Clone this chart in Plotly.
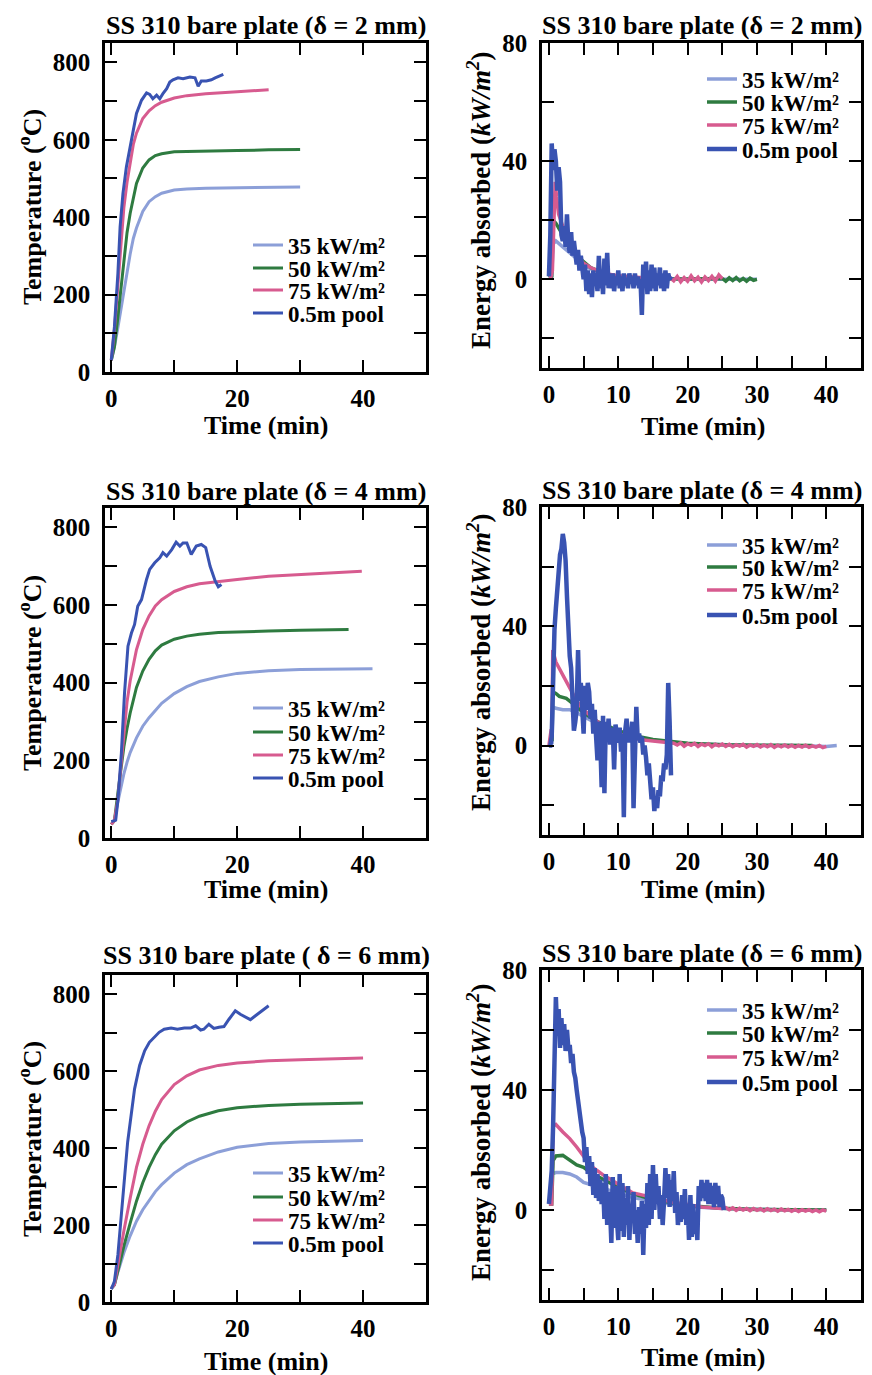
import plotly.graph_objects as go

# The page body has an 8 px margin, so the figure is sized and positioned to fill the
# 872 x 1375 window exactly: all layout pixel positions below are window pixels.
WIN_W, WIN_H = 872, 1375
OFF = 8
W, H = WIN_W - OFF, WIN_H - OFF
FONT = "Liberation Serif"

C35, C50, C75, CPOOL = "#8c9fd8", "#2e7b40", "#d75b8f", "#3953b2"
SERIES_NAMES = ["35 kW/m²", "50 kW/m²", "75 kW/m²", "0.5m pool"]
SERIES_COLORS = [C35, C50, C75, CPOOL]

# ---------------- Temperature, delta = 2 mm ----------------
t2_35 = [0, 0.5, 1, 1.5, 2, 2.5, 3, 3.5, 4, 5, 6, 7, 8, 10, 12, 15, 20, 25, 30]
T2_35 = [30, 65, 110, 160, 215, 265, 305, 345, 372, 415, 440, 453, 462, 470, 473, 475, 476, 477, 478]
t2_50 = [0, 0.5, 1, 1.5, 2, 2.5, 3, 3.5, 4, 5, 6, 7, 8, 10, 12, 15, 20, 25, 30]
T2_50 = [30, 65, 135, 215, 295, 360, 410, 452, 487, 527, 548, 559, 564, 569, 570, 571, 572, 574, 575]
t2_75 = [0, 0.5, 1, 1.5, 2, 2.5, 3, 3.5, 4, 5, 6, 7, 8, 10, 12, 15, 20, 25]
T2_75 = [30, 110, 215, 325, 425, 490, 545, 588, 617, 655, 675, 688, 697, 708, 714, 719, 724, 729]
t2_pool = [0, 0.5, 1.05, 1.4, 1.85, 2.4, 3.2, 4.0, 4.8, 5.6, 6.1, 6.6, 7.2, 7.7, 8.2, 8.8, 9.3, 9.8,
           10.6, 11.4, 12.5, 13.3, 13.8, 14.3, 15.1, 15.9, 16.5, 17.2, 17.8]
T2_pool = [31, 117, 255, 375, 461, 530, 599, 668, 702, 721, 717, 706, 715, 706, 719, 732, 749, 755,
           760, 758, 762, 760, 738, 752, 752, 755, 760, 766, 769]

# ---------------- Temperature, delta = 4 mm ----------------
t4_35 = [0, 0.5, 1, 1.5, 2, 2.5, 3, 4, 5, 6, 7, 8, 10, 12, 14, 17, 20, 25, 30, 35, 41.5]
T4_35 = [35, 45, 90, 130, 165, 195, 220, 258, 288, 310, 330, 347, 372, 390, 403, 415, 424, 431, 434, 435, 436]
t4_50 = [0, 0.5, 1, 1.5, 2, 2.5, 3, 4, 5, 6, 7, 8, 10, 12, 14, 17, 20, 25, 30, 37.7]
T4_50 = [35, 45, 110, 175, 235, 282, 322, 388, 430, 460, 482, 497, 512, 520, 525, 529, 531, 533, 535, 537]
t4_75 = [0, 0.5, 1, 1.5, 2, 2.5, 3, 4, 5, 6, 7, 8, 10, 12, 14, 17, 20, 25, 30, 35, 39.8]
T4_75 = [35, 45, 95, 180, 275, 350, 405, 485, 537, 572, 598, 614, 635, 647, 655, 661, 666, 674, 679, 684, 687]
t4_pool = [0, 0.7, 1.06, 1.6, 2.1, 2.65, 3.2, 3.7, 4.2, 4.8, 5.6, 6.1, 6.9, 7.7, 8.2, 8.8, 9.6, 10.3,
           10.9, 11.4, 12.0, 12.7, 13.5, 14.3, 15.0, 15.7, 16.5, 17.0, 17.5]
T4_pool = [42, 46, 98, 218, 373, 494, 528, 550, 597, 614, 666, 692, 709, 722, 735, 726, 743, 762,
           752, 760, 760, 730, 752, 756, 748, 700, 662, 647, 653]

# ---------------- Temperature, delta = 6 mm ----------------
t6_35 = [0, 0.5, 1, 1.5, 2, 3, 4, 5, 6, 7, 8, 10, 12, 14, 17, 20, 25, 30, 35, 40]
T6_35 = [35, 45, 75, 102, 128, 172, 210, 240, 265, 287, 305, 335, 357, 372, 390, 402, 412, 416, 418, 420]
t6_50 = [0, 0.5, 1, 1.5, 2, 3, 4, 5, 6, 7, 8, 10, 12, 14, 17, 20, 25, 30, 35, 40]
T6_50 = [35, 45, 78, 112, 145, 205, 262, 310, 350, 383, 410, 445, 468, 483, 497, 505, 511, 514, 516, 517]
t6_75 = [0, 0.5, 1, 1.5, 2, 3, 4, 5, 6, 7, 8, 10, 12, 14, 17, 20, 25, 30, 35, 40]
T6_75 = [35, 45, 92, 140, 185, 270, 350, 410, 458, 496, 526, 565, 588, 603, 615, 621, 627, 630, 632, 634]
t6_pool = [0, 0.5, 1.05, 1.6, 2.1, 2.6, 3.2, 3.7, 4.5, 5.3, 6.05, 6.8, 7.6, 8.4, 9.5, 10.5, 11.6,
           12.6, 13.4, 14.2, 14.7, 15.5, 16.3, 17.1, 17.9, 18.7, 19.7, 20.5, 21.3, 22.1, 22.9, 23.9, 25.0]
T6_pool = [33, 54, 123, 218, 322, 416, 494, 554, 615, 653, 675, 688, 701, 709, 712, 709, 712,
           712, 718, 707, 709, 722, 711, 714, 716, 735, 757, 748, 740, 734, 744, 757, 770]

# sampling times of the pool-fire energy records (min)
e_t_short = [0, 0.2, 0.4, 0.6, 0.8, 1, 1.2, 1.4, 1.6, 1.8, 2, 2.2, 2.4, 2.6, 2.8, 3, 3.2, 3.4, 3.6, 3.8,
             4, 4.2, 4.4, 4.6, 4.8, 5, 5.2, 5.4, 5.6, 5.8, 6, 6.2, 6.4, 6.6, 6.8, 7, 7.2, 7.4, 7.6, 7.8,
             8, 8.2, 8.4, 8.6, 8.8, 9, 9.2, 9.4, 9.6, 9.8, 10, 10.2, 10.4, 10.6, 10.8, 11, 11.2, 11.4,
             11.6, 11.8, 12, 12.2, 12.4, 12.6, 12.8, 13, 13.2, 13.4, 13.6, 13.8, 14, 14.2, 14.4, 14.6,
             14.8, 15, 15.2, 15.4, 15.6, 15.8, 16, 16.2, 16.4, 16.6, 16.8, 17, 17.2, 17.4, 17.6]
e_t_long = [0, 0.2, 0.4, 0.6, 0.8, 1, 1.2, 1.4, 1.6, 1.8, 2, 2.2, 2.4, 2.6, 2.8, 3, 3.2, 3.4, 3.6, 3.8,
            4, 4.2, 4.4, 4.6, 4.8, 5, 5.2, 5.4, 5.6, 5.8, 6, 6.2, 6.4, 6.6, 6.8, 7, 7.2, 7.4, 7.6, 7.8,
            8, 8.2, 8.4, 8.6, 8.8, 9, 9.2, 9.4, 9.6, 9.8, 10, 10.2, 10.4, 10.6, 10.8, 11, 11.2, 11.4,
            11.6, 11.8, 12, 12.2, 12.4, 12.6, 12.8, 13, 13.2, 13.4, 13.6, 13.8, 14, 14.2, 14.4, 14.6,
            14.8, 15, 15.2, 15.4, 15.6, 15.8, 16, 16.2, 16.4, 16.6, 16.8, 17, 17.2, 17.4, 17.6, 17.8,
            18, 18.2, 18.4, 18.6, 18.8, 19, 19.2, 19.4, 19.6, 19.8, 20, 20.2, 20.4, 20.6, 20.8, 21,
            21.2, 21.4, 21.6, 21.8, 22, 22.2, 22.4, 22.6, 22.8, 23, 23.2, 23.4, 23.6, 23.8, 24, 24.2,
            24.4, 24.6, 24.8, 25, 25.2]

# ---------------- Energy absorbed, delta = 2 mm ----------------
e2_t35 = [0, 0.4, 0.6, 1, 2, 3, 4, 5, 6, 8, 10, 12, 15, 20, 25, 30]
e2_E35 = [0.5, 1, 12, 13, 11, 9, 7, 5, 3.5, 2, 1, 0.5, 0.3, 0, 0, 0]
e2_t50 = [0, 0.4, 0.6, 1, 1.5, 2, 3, 4, 5, 6, 8, 10, 12, 15, 20, 25, 25.5, 26, 26.5, 27, 27.5,
          28, 28.5, 29, 29.5, 30]
e2_E50 = [0.5, 1, 20, 19, 17, 15, 11, 8, 6, 4, 2, 1, 0.5, 0.2, 0.1, 0.3, -0.6, 0.5, -0.4, 0.6, -0.5,
          0.3, -0.6, 0.4, -0.3, 0]
e2_t75 = [0, 0.3, 0.5, 0.7, 0.9, 1.1, 1.4, 1.7, 2, 2.5, 3, 4, 5, 6, 7, 8, 10, 12, 14, 16, 17.5,
          18, 18.5, 19, 19.5, 20, 20.5, 21, 21.5, 22, 22.5, 23, 23.5, 24, 24.5, 25]
e2_E75 = [1, 1, 3, 15, 33, 28, 22, 20, 18, 14, 11, 8, 5.5, 4, 3, 2, 1.2, 0.8, 0.5, 0.3, 0.5,
          -0.5, 1, -0.8, 0.6, -0.6, 1.2, -0.5, 0.7, -0.9, 0.8, -0.4, 1, -0.6, 1.5, 0.2]
e2_Epool = [1, 15, 46, 37, 44, 40, 30, 38, 33, 15,
            13, 18, 11, 22, 12, 9, 16, 8, 13, 7,
            5, 10, 3, 8, 2, 0, 5, -4, 3, -5,
            2, -6, 3, -2, 2, -4, 8, -3, 2, -5,
            7, -2, 9, -3, 2, -3, 2, -4, 1, -2,
            3, -3, 1, -4, 2, -2, 0, -3, 2, -1,
            1, -3, 2, -2, 1, -3, 0, -12, 5, -2,
            6, -5, 3, -4, 5, -3, 4, -4, 2, -2,
            4, -3, 2, -4, 3, -3, 2, 0, 1]

# ---------------- Energy absorbed, delta = 4 mm ----------------
e4_t35 = [0, 0.45, 0.55, 1, 2, 3, 4, 6, 8, 10, 12, 15, 20, 25, 30, 35, 40, 41.5]
e4_E35 = [1, 1, 13, 12.5, 12, 12, 11, 8.5, 6.5, 4.5, 3, 1.8, 0.6, 0.2, 0, 0, -0.3, 0]
e4_t50 = [0, 0.45, 0.55, 1, 1.5, 2.5, 3.5, 5, 7, 10, 12, 15, 20, 25, 30, 35, 38]
e4_E50 = [2, 2, 18, 17.5, 16.5, 15.8, 14, 11, 8, 5, 3.5, 2, 0.8, 0.3, 0.1, 0, 0]
e4_t75 = [0, 0.3, 0.45, 0.55, 1, 2, 3, 4, 5, 6, 7, 8, 10, 12, 13, 15, 17,
          18, 18.5, 19, 19.5, 20, 20.5, 21, 21.5, 22, 22.5, 23, 23.5, 24, 24.5, 25, 25.5, 26, 26.5,
          27, 27.5, 28, 28.5, 29, 29.5, 30, 30.5, 31, 31.5, 32, 32.5, 33, 33.5, 34, 34.5, 35, 35.5,
          36, 36.5, 37, 37.5, 38, 38.5, 39, 39.5, 40]
e4_E75 = [0, 5, 5, 32, 28, 23.5, 19, 15, 12, 10, 8, 6, 4, 2.5, 2, 1.5, 1,
          0.8, 0.2, 0.9, -0.2, 0.6, 0.1, 0.7, -0.3, 0.5, 0.0, 0.6, -0.4, 0.4, -0.1, 0.5, -0.3, 0.4, -0.4,
          0.3, -0.2, 0.4, -0.5, 0.2, -0.3, 0.3, -0.5, 0.2, -0.4, 0.3, -0.6, 0.1, -0.4, 0.2, -0.5, 0.1, -0.6,
          0.0, -0.5, 0.1, -0.6, -0.1, -0.5, 0.0, -0.7, -0.3]
e4_Epool = [0, 0, 3, 31, 39, 46, 53, 60, 64, 66,
            71, 68, 62, 50, 37, 30, 26, 14, 5, 8,
            12, 32, 15, 21, 10, 4, 20, 12, 21, 18,
            9, 14, 4, 12, 3, -5, 8, 2, -14, 10,
            -16, 8, 2, 9, 1, 1, 6, -8, 7, 2,
            1, 6, -2, 4, -24, 5, 9, 1, 6, 2,
            8, -21, 5, 13, 2, 4, 1, 3, -3, 0,
            -4, -10, -6, -12, -18, -14, -22, -17, -21, -15,
            -17, -10, -12, -6, -8, -3, 21, 8, -10]

# ---------------- Energy absorbed, delta = 6 mm ----------------
e6_t35 = [0, 0.3, 0.4, 1, 2, 3, 4, 5, 6, 8, 10, 12, 15, 20, 25, 30, 35, 40]
e6_E35 = [2, 2, 12, 12.5, 12.5, 12, 11, 9.2, 8.5, 7, 5.5, 4.2, 2.8, 1.2, 0.5, 0.2, 0, 0]
e6_t50 = [0, 0.4, 0.6, 1, 2, 3, 4, 5, 6, 8, 10, 12, 15, 20, 25, 30, 35, 40]
e6_E50 = [2, 2, 16.5, 18, 18.2, 16.5, 15, 14.2, 12.5, 10, 7.5, 5.5, 3.5, 1.5, 0.6, 0.2, 0, 0]
e6_t75 = [0, 0.4, 0.6, 1, 2, 3, 4, 5, 6, 8, 10, 12, 14, 16, 18, 20, 22, 25,
          25.5, 26, 26.5, 27, 27.5, 28, 28.5, 29, 29.5, 30, 30.5, 31, 31.5, 32, 32.5, 33, 33.5, 34,
          34.5, 35, 35.5, 36, 36.5, 37, 37.5, 38, 38.5, 39, 39.5, 40]
e6_E75 = [2, 2, 28, 28.5, 26, 23.8, 21, 18, 14.8, 11.4, 8.6, 5.8, 4.7, 3.5, 2.5, 1.8, 1, 0.5,
          0.8, 0.1, 0.7, -0.1, 0.6, 0.0, 0.5, -0.2, 0.5, -0.1, 0.4, -0.3, 0.4, -0.2, 0.3, -0.4, 0.3, -0.3,
          0.2, -0.4, 0.2, -0.5, 0.1, -0.4, 0.1, -0.5, 0.0, -0.6, 0.0, -0.4]
e6_Epool = [2, 8, 13, 28, 50, 71, 58, 67, 54, 64,
            55, 62, 53, 60, 54, 55, 49, 52, 46, 44,
            40, 36, 33, 30, 26, 24, 16, 21, 12, 18,
            8, 16, 5, 14, 4, 12, 3, 10, 2, 9,
            -3, 12, -5, 6, 1, -11, 11, -6, 8, -3,
            -10, 12, -7, 9, -9, 4, -5, 8, -10, 2,
            -4, 6, -8, 0, -11, 1, -8, 3, -15, 2,
            -6, 9, -5, 12, -3, 15, 0, 12, 2, 8,
            -3, 5, -5, 3, 14, 4, 12, 1, 10, 3,
            13, -1, 6, -5, 2, -4, 5, -3, 7, -5,
            2, -10, 5, -9, 2, -8, -2, -10, 8, 3,
            10, 4, 9, 3, 10, 2, 9, 2, 8, 1,
            9, 2, 8, 1, 5, 4, 0]

# ---------------- tick labels ----------------
temp_xticks = [0, 10, 20, 30, 40]
temp_xlabels = ["0", "", "20", "", "40"]
temp_yticks = [0, 100, 200, 300, 400, 500, 600, 700, 800]
temp_ylabels = ["0", "", "200", "", "400", "", "600", "", "800"]
en_xticks = [0, 5, 10, 15, 20, 25, 30, 35, 40]
en_xlabels = ["0", "", "10", "", "20", "", "30", "", "40"]
en_yticks = [-20, 0, 20, 40, 60, 80]
en_ylabels = ["", "0", "", "40", "", "80"]

titles = ["SS 310 bare plate (δ = 2 mm)", "SS 310 bare plate (δ = 2 mm)",
          "SS 310 bare plate (δ = 4 mm)", "SS 310 bare plate (δ = 4 mm)",
          "SS 310 bare plate ( δ = 6 mm)", "SS 310 bare plate (δ = 6 mm)"]

panel_data = {
    1: [(t2_35, T2_35), (t2_50, T2_50), (t2_75, T2_75), (t2_pool, T2_pool)],
    2: [(e2_t35, e2_E35), (e2_t50, e2_E50), (e2_t75, e2_E75), (e_t_short, e2_Epool)],
    3: [(t4_35, T4_35), (t4_50, T4_50), (t4_75, T4_75), (t4_pool, T4_pool)],
    4: [(e4_t35, e4_E35), (e4_t50, e4_E50), (e4_t75, e4_E75), (e_t_short, e4_Epool)],
    5: [(t6_35, T6_35), (t6_50, T6_50), (t6_75, T6_75), (t6_pool, T6_pool)],
    6: [(e6_t35, e6_E35), (e6_t50, e6_E50), (e6_t75, e6_E75), (e_t_long, e6_Epool)],
}

# ---------------- layout geometry (window pixels) ----------------
boxes = {1: (105, 426, 43, 372), 2: (542, 861, 43, 368),
         3: (105, 426, 508, 838), 4: (542, 861, 507, 835),
         5: (105, 426, 975, 1302), 6: (542, 861, 970, 1300)}
title_pos = {1: (266, 25), 2: (702, 25), 3: (266, 492), 4: (702, 490), 5: (266, 955), 6: (702, 953)}
xtitle_pos = {1: (266, 425), 2: (703, 426), 3: (266, 889), 4: (703, 889), 5: (266, 1361), 6: (703, 1357)}
ytitle_pos = {1: (30, 207), 2: (479, 200), 3: (30, 673), 4: (479, 662), 5: (30, 1139), 6: (479, 1132)}
legend_pos = {1: (255, [245, 268, 290, 313]), 2: (709, [79, 102, 125, 149]),
              3: (255, [708, 732, 755, 778]), 4: (709, [545, 567, 590, 615]),
              5: (255, [1173, 1197, 1220, 1243]), 6: (709, [1010, 1033, 1057, 1082])}
LEG_OFFSET = 7


def fx(p):
    return (p - OFF) / W


def fy(p):
    return 1 - (p - OFF) / H


fig = go.Figure()
layout = dict(width=W, height=H, margin=dict(l=0, r=0, t=0, b=0, pad=0), autosize=False,
              paper_bgcolor="white", plot_bgcolor="white", showlegend=True)
annotations = []
leg_k = 0

for n in range(1, 7):
    is_temp = n % 2 == 1
    xa = "x" if n == 1 else f"x{n}"
    ya = "y" if n == 1 else f"y{n}"
    for i, (tt, vv) in enumerate(panel_data[n]):
        leg_k += 1
        lname = "legend" if leg_k == 1 else f"legend{leg_k}"
        if is_temp:
            lw = 3
        else:
            lw = 4.5 if i == 3 else 3.5
        fig.add_trace(go.Scatter(
            x=tt, y=vv, mode="lines", name=SERIES_NAMES[i],
            line=dict(color=SERIES_COLORS[i], width=lw),
            xaxis=xa, yaxis=ya, legend=lname, hoverinfo="skip"))
        lx, rows = legend_pos[n]
        layout[lname] = dict(x=fx(lx - LEG_OFFSET), y=fy(rows[i]), xanchor="left", yanchor="middle",
                             bgcolor="rgba(0,0,0,0)", borderwidth=0,
                             font=dict(family=FONT, size=23, color="black", weight="bold"))
    x0, x1, y0, y1 = boxes[n]
    common = dict(showline=True, linecolor="black", linewidth=2.5, mirror="allticks",
                  ticks="inside", ticklen=12, tickwidth=2, tickcolor="black",
                  showgrid=False, zeroline=False, fixedrange=True, automargin=False,
                  tickfont=dict(family=FONT, size=25, color="black", weight="bold"))
    if is_temp:
        xax = dict(common, range=[-1, 50], tickmode="array", tickvals=temp_xticks, ticktext=temp_xlabels)
        yax = dict(common, range=[0, 850], tickmode="array", tickvals=temp_yticks, ticktext=temp_ylabels)
    else:
        xax = dict(common, range=[-1, 45], tickmode="array", tickvals=en_xticks, ticktext=en_xlabels)
        yax = dict(common, range=[-30, 80], tickmode="array", tickvals=en_yticks, ticktext=en_ylabels)
    xax.update(domain=[fx(x0), fx(x1)], anchor=ya, ticklabelstandoff=2)
    yax.update(domain=[fy(y1), fy(y0)], anchor=xa, ticklabelstandoff=7)
    layout["xaxis" if n == 1 else f"xaxis{n}"] = xax
    layout["yaxis" if n == 1 else f"yaxis{n}"] = yax

    tfont = dict(family=FONT, size=26, color="black", weight="bold")
    tx, ty = title_pos[n]
    annotations.append(dict(text=titles[n - 1], x=fx(tx), y=fy(ty), xref="paper", yref="paper",
                            xanchor="center", yanchor="middle", showarrow=False, font=tfont))
    tx, ty = xtitle_pos[n]
    annotations.append(dict(text="Time (min)", x=fx(tx), y=fy(ty), xref="paper", yref="paper",
                            xanchor="center", yanchor="middle", showarrow=False, font=tfont))
    tx, ty = ytitle_pos[n]
    ytxt = "Temperature (<sup>o</sup>C)" if is_temp else "Energy absorbed (<i>kW/m</i><sup><i>2</i></sup>)"
    annotations.append(dict(text=ytxt, x=fx(tx), y=fy(ty), xref="paper", yref="paper",
                            xanchor="center", yanchor="middle", showarrow=False, textangle=-90,
                            font=dict(tfont, size=26 if is_temp else 27)))

layout["annotations"] = annotations
fig.update_layout(**layout)
fig.write_html("out.html")
